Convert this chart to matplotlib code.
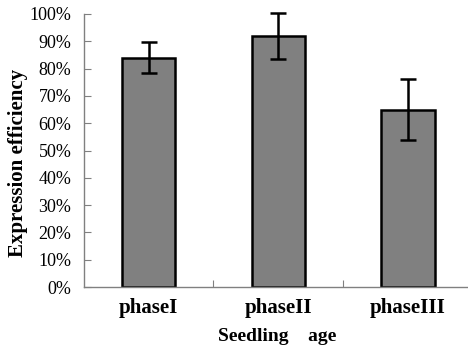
import numpy as np
import matplotlib
matplotlib.use("Agg")
import matplotlib.pyplot as plt
from matplotlib.ticker import PercentFormatter

# data
phases = ["phaseI", "phaseII", "phaseIII"]
efficiency = [0.84, 0.92, 0.65]
err = [0.056, 0.085, 0.11]
yticks = np.arange(0, 1.01, 0.1)

plt.rcParams['font.family'] = ['Liberation Serif', 'DejaVu Serif']

fig = plt.figure(figsize=(4.68, 3.48), dpi=100)
ax = fig.add_axes([0.179, 0.175, 0.826, 0.785])

x = np.arange(len(phases))
ax.bar(x, efficiency, width=0.41, color='#808080', edgecolor='black',
       linewidth=1.8, zorder=2)
eb = ax.errorbar(x, efficiency, yerr=err, fmt='none', ecolor='black',
                 elinewidth=1.8, capsize=6, capthick=1.8, zorder=3)
for art in eb.get_children():
    art.set_clip_on(False)

ax.set_xlim(-0.5, 2.48)
ax.set_ylim(0, 1.0)
ax.set_yticks(yticks)
ax.yaxis.set_major_formatter(PercentFormatter(1.0, decimals=0))
ax.set_xticks([0.5, 1.5])
ax.set_xticklabels([])
ax.set_xticks(x, minor=True)
ax.set_xticklabels(phases, minor=True, fontsize=15, fontweight='bold')
ax.tick_params(axis='x', which='minor', length=0, pad=8)
ax.tick_params(axis='x', which='major', direction='in', length=5, color='#808080')
ax.tick_params(axis='y', direction='in', length=5, color='#808080',
               labelsize=13, pad=9)

for s in ['top', 'right']:
    ax.spines[s].set_visible(False)
for s in ['left', 'bottom']:
    ax.spines[s].set_color('#808080')
    ax.spines[s].set_linewidth(1.0)

ax.set_ylabel("Expression efficiency", fontsize=15, fontweight='bold')
ax.yaxis.set_label_coords(-0.145, 0.456)
ax.set_xlabel("Seedling    age", fontsize=14, fontweight='bold')
ax.xaxis.set_label_coords(0.5, -0.15)

fig.savefig("out.png", dpi=100)
